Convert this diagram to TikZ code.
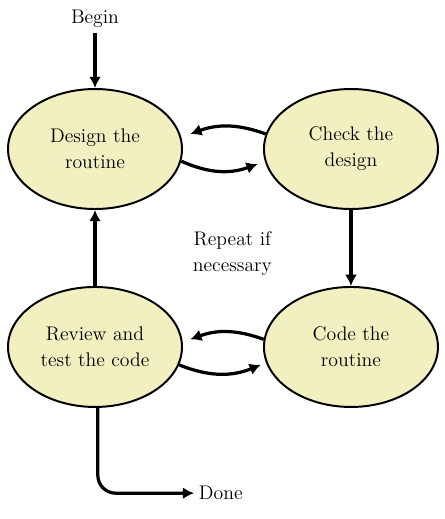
\documentclass[tikz,border=0pt]{standalone}
\usepackage{tikz}
\usetikzlibrary{arrows.meta,shapes.geometric,positioning}
\definecolor{hellgelb}{RGB}{242,240,192}

\begin{document}
\begin{tikzpicture}[
  schritt/.style={ellipse,draw=black,line width=1.4pt,fill=hellgelb,
    minimum width=4.35cm,minimum height=3cm,align=center,inner sep=0pt,
    font=\fontsize{14}{18.5}\selectfont},
  pfeil/.style={line width=2.3pt,-{Latex[length=8pt,width=8.5pt]}},
  txt/.style={align=center,font=\fontsize{14}{18.5}\selectfont}]
%Rahmen wie im Original (445x519 px, 40 px pro cm)
\useasboundingbox (0,0) rectangle (11.125,-12.975);
  \pgfmathsetmacro{\xL}{2.375}
  \pgfmathsetmacro{\yO}{-3.725}
%Die vier Schritte
\node[schritt] (design) at (\xL,\yO) {Design the\\routine};
\node[schritt,right=2cm of design] (check) {Check the\\design};
\node[schritt,below=1.9cm of design] (review) {Review and\\test the code};
\node[schritt,below=1.9cm of check] (code) {Code the\\routine};
%Texte
\node[txt] (begin) at (\xL,-0.475) {Begin};
\node[txt] (repeat) at (5.81,-6.33) {Repeat if\\necessary};
\node[txt,anchor=west] (done) at (4.85,-12.33) {Done};
%Pfeile
\draw[pfeil] (begin) -- (design);
\draw[pfeil] (check) -- (code);
\draw[pfeil] (review) -- (design);
\draw[pfeil] (check.170) to[bend right=20] ([xshift=0.25cm]design.10);
\draw[pfeil] (design.-8) to[bend right=22] ([xshift=-0.2cm]check.190);
\draw[pfeil] (code.175) to[bend right=20] ([xshift=0.2cm]review.5);
\draw[pfeil] (review.-12) to[bend right=22] ([xshift=-0.15cm]code.192);
\draw[pfeil,rounded corners=0.45cm] ([xshift=2pt]review.south) |- (done.west);
\end{tikzpicture}
\end{document}
